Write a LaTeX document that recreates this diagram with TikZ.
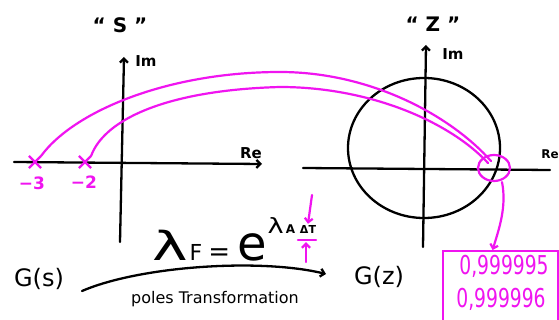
\documentclass[tikz,border=0pt]{standalone}
\usepackage{fontspec}
\usepackage{graphicx}
\setmainfont{DejaVu Sans}
\usetikzlibrary{arrows.meta,shapes.geometric,shapes.misc}
\definecolor{pk}{RGB}{240,20,240}
\newcommand{\fs}[1]{\fontsize{#1}{#1}\selectfont}
\begin{document}
\begin{tikzpicture}[x=1pt,y=-1pt,
  ax/.style={line width=2.3pt,line cap=round,line join=round},
  pkl/.style={draw=pk,line width=2.2pt,line cap=round},
  tip/.style={-{Straight Barb[length=4pt,width=8pt]}},
  lbl/.style={inner sep=0pt,font=\fs{15}\bfseries},
  quo/.style={inner sep=0pt,font=\fs{20}\bfseries},
  xmark/.style={cross out,draw=pk,line width=2.2pt,minimum size=10pt,inner sep=0pt},
  pktxt/.style={text=pk,inner sep=0pt,font=\fs{17}\bfseries},
  big/.style={inner sep=0pt,font=\fs{24}},
  val/.style={text=pk,inner sep=0pt,font=\fs{26}}
]
\clip (0,0) rectangle (559,320);
\fill[white] (0,0) rectangle (559,320);

% ---- s-plane ----
\coordinate (lx0) at (14,162);
\coordinate (lx1) at (262,164);
\coordinate (ly0) at (120,242);
\coordinate (ly1) at (124,57);
\draw[ax,tip] (lx0) -- (lx1);
\draw[ax,tip] (ly0) -- (ly1);
\node[lbl] (limL) at (146,61) {Im};
\node[lbl] (lreL) at (251,153) {Re};
\node[quo] (sLab) at (120,25) {“ S ”};

\node[xmark] (x3) at (35,162) {};
\node[xmark] (x2) at (85,162) {};
\node[pktxt] (m3) at (32,183) {−3};
\node[pktxt] (m2) at (84,182) {−2};

% ---- z-plane ----
\coordinate (rx0) at (303,168);
\coordinate (rx1) at (550,170);
\coordinate (ry0) at (423,247);
\coordinate (ry1) at (426,45);
\draw[ax] (rx0) -- (rx1);
\draw[ax,tip] (ry0) -- (ry1);
\draw[ax] (424,148) ellipse [x radius=76pt, y radius=70pt];
\node[lbl] (limR) at (453,54) {Im};
\node[inner sep=0pt,font=\fs{12}\bfseries,anchor=east] (lreR) at (559,154) {Re};
\node[quo] (zLab) at (433,24) {“ Z ”};

% pole mapping
\coordinate (pole1) at (491,161);
\coordinate (pole2) at (488,163);
\draw[pkl] (x3.north east) .. controls (75,110) and (170,72) .. (280,72)
  .. controls (370,72) and (450,115) .. (pole1);
\draw[pkl] (x2.north east) .. controls (105,118) and (170,90) .. (280,87)
  .. controls (370,87) and (450,122) .. (pole2);
\node[ellipse,draw=pk,line width=2.2pt,minimum width=32pt,minimum height=26pt,inner sep=0pt] (pc) at (494,168) {};

% value box
\node[draw=pk,line width=2.2pt,minimum width=115pt,minimum height=82pt,anchor=north west] (box) at (442,250) {};
\node[val] (v1) at (504,266) {\scalebox{0.72}[1]{0,999995}};
\node[val] (v2) at (501,299) {\scalebox{0.72}[1]{0,999996}};
\draw[pkl,tip] ([xshift=8pt]pc.south) .. controls +(5,25) and +(6,-20) .. ([xshift=-8pt]box.north);

% ---- transformation ----
\node[big] (gs) at (39,279) {G(s)};
\node[big] (gz) at (379,277) {G(z)};
\coordinate (a0) at (82,291);
\coordinate (a1) at (326,274);
\draw[ax,tip] (a0) .. controls (140,266) and (260,258) .. (a1);
\node[inner sep=0pt,anchor=base west] (form) at (152,260)
  {\scalebox{1.5}[1]{\fs{40}λ}\hspace{2pt}\raisebox{-1pt}{\fs{22}F}\hspace{6pt}{\fs{26}=}\hspace{7pt}{\fs{48}e}\hspace{1pt}\raisebox{27pt}{\scalebox{1.3}[1]{\fs{21}λ}\hspace{2pt}{\fs{12}\bfseries A}}};
\node[inner sep=1pt,font=\fs{11}\bfseries] (dt) at (308,229) {ΔT};
\coordinate (dtop) at (312,195);
\coordinate (dbot) at (306,262);
\draw[pkl,tip] (dtop) -- (dt.north);
\draw[pkl] ([xshift=-10pt,yshift=-6pt]dt.south) -- ++(18,0);
\draw[pkl,tip] (dbot) -- ([xshift=-2pt,yshift=-8pt]dt.south);
\node[inner sep=0pt,font=\fs{16}] (ptr) at (215,299) {poles Transformation};
\end{tikzpicture}
\end{document}
